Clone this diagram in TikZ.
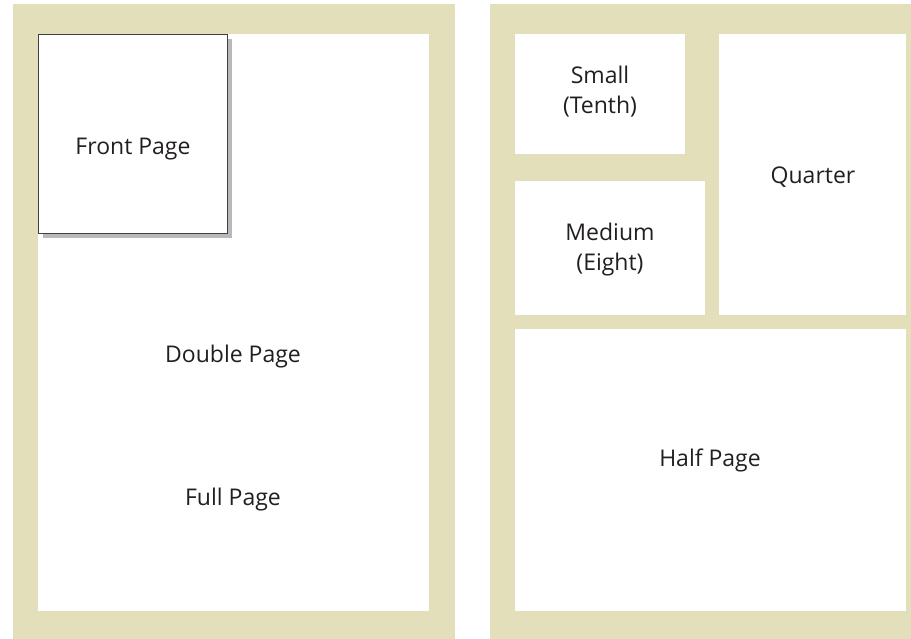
\documentclass[tikz,border=0pt]{standalone}
\usepackage{fontspec}
\setmainfont{Open Sans}
\definecolor{beige}{HTML}{E3DFBA}
\definecolor{txt}{HTML}{231F20}
\definecolor{shadowgray}{HTML}{B9B9BD}
\begin{document}
\begin{tikzpicture}[x=1pt,y=-1pt,
  panel/.style={fill=beige,draw=none},
  slot/.style={fill=white,draw=none},
  lbl/.style={text=txt,font=\fontsize{23}{30}\selectfont,align=center,inner sep=0pt}]
\useasboundingbox (0,0) rectangle (911,639);
\fill[white] (0,0) rectangle (911,639);
% left panel
\path[panel] (13,4) rectangle (455,639);
\path[slot] (38,34) rectangle (429,611);
\fill[shadowgray] (43,39) rectangle (232,238);
\draw[fill=white,draw=black!75,line width=0.8pt] (38.4,34.4) rectangle (227,233);
\node[lbl] (front) at (133,149) {Front Page};
\node[lbl] (double) at (233,357) {Double Page};
\node[lbl] (full) at (233,500) {Full Page};
% right panel
\path[panel] (490,4) rectangle (911,639);
\path[slot] (515,34) rectangle (685,154);
\path[slot] (515,181) rectangle (705,315);
\path[slot] (719,34) rectangle (906,315);
\path[slot] (515,329) rectangle (906,611);
\node[lbl] (small) at (600,92) {Small\\(Tenth)};
\node[lbl] (medium) at (610,250) {Medium\\(Eight)};
\node[lbl] (quarter) at (813,177) {Quarter};
\node[lbl] (half) at (710,460) {Half Page};
\end{tikzpicture}
\end{document}
